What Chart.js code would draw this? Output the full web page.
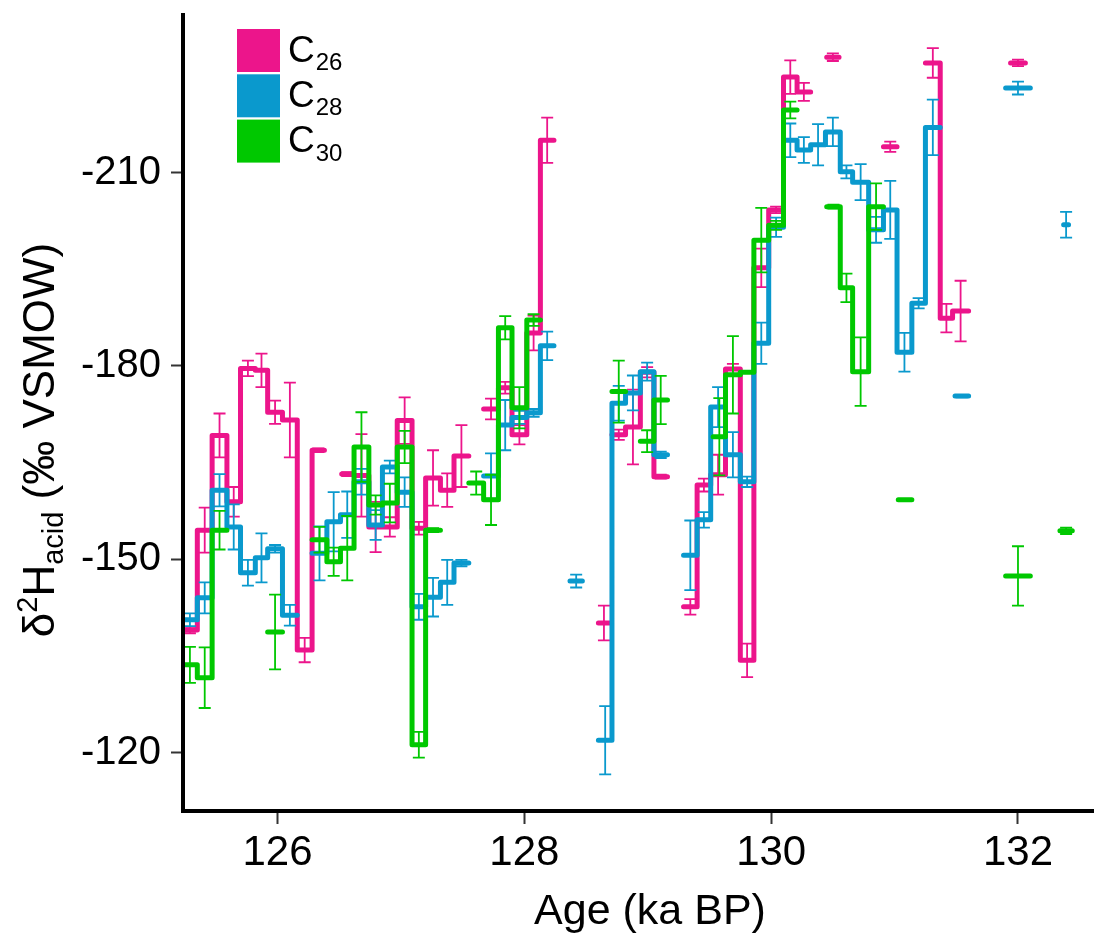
<!DOCTYPE html>
<html>
<head>
<meta charset="utf-8">
<script src="https://cdn.jsdelivr.net/npm/chart.js@4.4.1/dist/chart.umd.min.js"></script>
<style>
  html, body { margin: 0; padding: 0; background: #fff; }
  #wrap { width: 1094px; height: 935px; }
</style>
</head>
<body>
<div id="wrap"><canvas id="chart" width="1094" height="935"></canvas></div>
<script>
// Each sample covers an age interval (ka BP): [from, to], value and 1-sigma error.
// Samples whose "from" equals the previous "to" are joined by the step line.

// C26
const c26From = [125.23, 125.35, 125.47, 125.59, 125.70, 125.82, 125.92, 126.04, 126.16, 126.28,
                 126.52,
                 126.62, 126.74, 126.85, 126.97, 127.09, 127.20, 127.32, 127.43,
                 127.67, 127.79, 127.90, 128.02, 128.13,
                 128.60,
                 128.71, 128.82, 128.94, 129.05,
                 129.29, 129.40, 129.51, 129.63, 129.75, 129.86, 129.98, 130.10, 130.21,
                 130.45,
                 130.91,
                 131.25, 131.37, 131.47,
                 131.94];
const c26To   = [125.35, 125.47, 125.59, 125.70, 125.82, 125.92, 126.04, 126.16, 126.28, 126.38,
                 126.61,
                 126.74, 126.85, 126.97, 127.09, 127.20, 127.32, 127.43, 127.55,
                 127.79, 127.90, 128.02, 128.13, 128.24,
                 128.69,
                 128.82, 128.94, 129.05, 129.16,
                 129.40, 129.51, 129.63, 129.75, 129.86, 129.98, 130.10, 130.21, 130.32,
                 130.55,
                 131.02,
                 131.37, 131.47, 131.60,
                 132.06];
const c26Val  = [-139.0, -154.5, -169.2, -158.9, -179.6, -179.3, -172.8, -171.6, -135.9, -166.9,
                 -163.2,
                 -163.0, -155.0, -155.0, -171.5, -154.8, -162.6, -160.7, -166.0,
                 -173.3, -176.6, -169.3, -185.1, -215.0,
                 -140.1,
                 -169.3, -170.5, -179.0, -162.8,
                 -142.6, -161.5, -163.1, -179.5, -134.3, -195.2, -204.2, -224.8, -222.5,
                 -227.9,
                 -214.0,
                 -227.0, -187.4, -188.5,
                 -227.0];
const c26Err  = [0.5, 3.5, 3.4, 2.3, 1.2, 2.6, 1.8, 5.8, 1.9, 0.3,
                 0.3,
                 6.4, 3.9, 1.5, 3.6, 1.0, 4.3, 2.6, 4.8,
                 1.6, 0.9, 1.5, 2.7, 3.5,
                 2.7,
                 0.8, 5.8, 0.8, 0.3,
                 1.2, 1.0, 3.1, 0.8, 2.6, 3.0, 0.5, 2.6, 1.4,
                 0.6,
                 0.8,
                 2.3, 2.2, 4.7,
                 0.5];

// C28
const c28From = [125.23, 125.35, 125.47, 125.59, 125.70, 125.82, 125.92, 126.04,
                 126.28, 126.40, 126.51, 126.62, 126.74, 126.85, 126.97, 127.09, 127.20, 127.32, 127.43,
                 127.67, 127.79, 127.90, 128.02, 128.13,
                 128.37,
                 128.60, 128.71, 128.82, 128.94, 129.05,
                 129.29, 129.40, 129.51, 129.63, 129.75, 129.86, 129.98, 130.10, 130.21, 130.32,
                 130.44, 130.56, 130.66, 130.79, 130.91, 131.02, 131.14, 131.25,
                 131.49,
                 131.90,
                 132.37];
const c28To   = [125.35, 125.47, 125.59, 125.70, 125.82, 125.92, 126.04, 126.16,
                 126.40, 126.51, 126.62, 126.74, 126.85, 126.97, 127.09, 127.20, 127.32, 127.43, 127.55,
                 127.79, 127.90, 128.02, 128.13, 128.24,
                 128.47,
                 128.71, 128.82, 128.94, 129.05, 129.16,
                 129.40, 129.51, 129.63, 129.75, 129.86, 129.98, 130.10, 130.21, 130.32, 130.44,
                 130.56, 130.66, 130.79, 130.91, 131.02, 131.14, 131.25, 131.37,
                 131.60,
                 132.10,
                 132.41];
const c28Val  = [-140.6, -144.0, -160.7, -155.0, -147.9, -150.2, -151.6, -141.3,
                 -150.9, -155.8, -156.9, -162.0, -155.3, -164.3, -160.4, -142.6, -144.1, -146.4, -149.4,
                 -162.9, -170.8, -172.0, -172.7, -183.1,
                 -146.6,
                 -121.9, -174.2, -175.8, -179.1, -166.2,
                 -150.6, -156.1, -173.6, -166.2, -162.0, -183.5, -201.5, -215.0, -213.5, -214.3,
                 -216.3, -210.1, -208.5, -201.1, -204.2, -182.1, -189.7, -217.0,
                 -175.3,
                 -223.1,
                 -201.9];
const c28Err  = [1.0, 2.4, 2.5, 3.5, 2.0, 3.8, 0.6, 1.6,
                 4.2, 4.6, 3.6, 2.0, 2.3, 1.0, 2.3, 2.0, 3.0, 3.5, 0.5,
                 3.5, 3.9, 1.0, 0.6, 2.2,
                 1.0,
                 5.3, 2.7, 2.7, 1.4, 0.5,
                 5.4, 1.2, 3.1, 3.5, 0.8, 3.2, 1.5, 2.6, 2.0, 3.2,
                 2.2, 1.0, 2.8, 2.0, 4.5, 3.0, 0.8, 4.3,
                 0.2,
                 1.0,
                 2.0];

// C30
const c30From = [125.23, 125.35, 125.47,
                 125.92,
                 126.28, 126.40, 126.51, 126.62, 126.74, 126.85, 126.97, 127.09, 127.20,
                 127.55, 127.67, 127.79, 127.90, 128.02,
                 128.71,
                 128.94, 129.05,
                 129.53, 129.63, 129.75, 129.86, 129.98, 130.10,
                 130.45, 130.56, 130.66, 130.79,
                 131.03,
                 131.90,
                 132.34];
const c30To   = [125.35, 125.47, 125.59,
                 126.04,
                 126.40, 126.51, 126.62, 126.74, 126.85, 126.97, 127.09, 127.20, 127.32,
                 127.67, 127.79, 127.90, 128.02, 128.13,
                 128.82,
                 129.05, 129.16,
                 129.63, 129.75, 129.86, 129.98, 130.10, 130.21,
                 130.56, 130.66, 130.79, 130.91,
                 131.14,
                 132.10,
                 132.44];
const c30Val  = [-133.6, -131.6, -154.5,
                 -138.7,
                 -153.0, -149.6, -151.7, -167.4, -158.4, -158.7, -167.4, -121.2, -154.5,
                 -161.8, -159.2, -185.9, -173.5, -187.1,
                 -176.0,
                 -168.3, -174.7,
                 -169.0, -178.6, -179.0, -199.5, -201.8, -219.7,
                 -204.7, -192.1, -179.1, -204.7,
                 -159.2,
                 -147.4,
                 -154.4];
const c30Err  = [2.8, 4.7, 3.0,
                 5.8,
                 2.0, 2.2, 5.0, 5.4, 1.5, 3.0, 2.5, 2.0, 0.3,
                 1.8, 3.9, 1.8, 3.2, 0.9,
                 4.8,
                 1.7, 3.75,
                 6.0, 6.0, 0, 5.0, 0.7, 1.3,
                 0.3, 2.2, 5.3, 3.6,
                 0,
                 4.6,
                 0.5];

const xTicks = [126, 128, 130, 132];
const yTicks = [-210, -180, -150, -120];

const seriesNames = ['26', '28', '30'];
const seriesColors = ['#EC158B', '#0A99CD', '#00C800'];

// turn sample intervals into a step path, breaking where samples are not adjacent
function stepPoints(from, to, val) {
  const pts = [];
  for (let i = 0; i < val.length; i++) {
    if (i > 0 && from[i] !== to[i - 1]) {
      pts.push({ x: (to[i - 1] + from[i]) / 2, y: null });
    }
    pts.push({ x: from[i], y: val[i] });
    pts.push({ x: to[i], y: val[i] });
  }
  return pts;
}

function makeSet(idx, from, to, val, err) {
  return {
    label: 'C' + seriesNames[idx],
    data: stepPoints(from, to, val),
    borderColor: seriesColors[idx],
    backgroundColor: seriesColors[idx],
    borderWidth: 5,
    pointRadius: 0,
    spanGaps: false,
    order: 3 - idx,
    // kept for the error-bar plugin
    sFrom: from, sTo: to, sVal: val, sErr: err
  };
}

const FONT = '"Liberation Sans", Arial, sans-serif';

// error bars drawn right after their own series so the layering matches
const errorBars = {
  id: 'errorBars',
  afterDatasetDraw(chart, args) {
    const ds = chart.data.datasets[args.index];
    const { ctx, chartArea, scales: { x, y } } = chart;
    ctx.save();
    ctx.beginPath();
    ctx.rect(chartArea.left, chartArea.top, chartArea.right - chartArea.left, chartArea.bottom - chartArea.top);
    ctx.clip();
    ctx.strokeStyle = ds.borderColor;
    ctx.lineWidth = 1.8;
    ctx.lineCap = 'butt';
    for (let i = 0; i < ds.sVal.length; i++) {
      if (!ds.sErr[i]) continue;
      const cx = x.getPixelForValue((ds.sFrom[i] + ds.sTo[i]) / 2);
      const y1 = y.getPixelForValue(ds.sVal[i] - ds.sErr[i]);
      const y2 = y.getPixelForValue(ds.sVal[i] + ds.sErr[i]);
      ctx.beginPath();
      ctx.moveTo(cx, y1); ctx.lineTo(cx, y2);
      ctx.moveTo(cx - 6, y1); ctx.lineTo(cx + 6, y1);
      ctx.moveTo(cx - 6, y2); ctx.lineTo(cx + 6, y2);
      ctx.stroke();
    }
    ctx.restore();
  }
};

// legend boxes with subscripted labels, y title with super/subscripts, x title
const decorations = {
  id: 'decorations',
  afterDraw(chart) {
    const ctx = chart.ctx;
    ctx.save();
    ctx.fillStyle = '#000';
    ctx.textBaseline = 'alphabetic';
    ctx.textAlign = 'left';

    // legend
    for (let i = 0; i < seriesNames.length; i++) {
      const top = 29 + i * 45.3;
      ctx.fillStyle = seriesColors[i];
      ctx.fillRect(237, top, 43, 43);
      ctx.fillStyle = '#000';
      ctx.font = '37px ' + FONT;
      ctx.fillText('C', 288, top + 32.5);
      const cw = ctx.measureText('C').width;
      ctx.font = '24px ' + FONT;
      ctx.fillText(seriesNames[i], 288 + cw + 1, top + 41);
    }

    // x title
    ctx.font = '43px ' + FONT;
    ctx.textAlign = 'center';
    ctx.fillText('Age (ka BP)', 650, 924);

    // y title
    const parts = [
      ['δ', 44, 0], ['2', 29, -17], ['H', 44, 0], ['acid', 29, 9], [' (‰ VSMOW)', 44, 0]
    ];
    let total = 0;
    for (const p of parts) { ctx.font = p[1] + 'px ' + FONT; p.push(ctx.measureText(p[0]).width); total += p[3]; }
    ctx.translate(54, 440);
    ctx.rotate(-Math.PI / 2);
    ctx.textAlign = 'left';
    let cx = -total / 2;
    for (const p of parts) {
      ctx.font = p[1] + 'px ' + FONT;
      ctx.fillText(p[0], cx, p[2]);
      cx += p[3];
    }
    ctx.restore();
  }
};

new Chart(document.getElementById('chart'), {
  type: 'line',
  data: {
    datasets: [
      makeSet(0, c26From, c26To, c26Val, c26Err),
      makeSet(1, c28From, c28To, c28Val, c28Err),
      makeSet(2, c30From, c30To, c30Val, c30Err)
    ]
  },
  options: {
    responsive: false,
    animation: false,
    devicePixelRatio: 1,
    layout: { padding: { top: 15, right: 0, bottom: 0, left: 0 } },
    elements: {
      line: { tension: 0, borderCapStyle: 'round', borderJoinStyle: 'round' },
      point: { radius: 0, hoverRadius: 0 }
    },
    plugins: { legend: { display: false }, tooltip: { enabled: false } },
    scales: {
      x: {
        type: 'linear',
        min: 125.234,
        max: 132.616,
        afterBuildTicks: s => { s.ticks = xTicks.map(v => ({ value: v })); },
        afterFit: s => { s.height = 124; s.paddingLeft = 0; s.paddingRight = 0; },
        grid: { drawOnChartArea: false, drawTicks: true, tickLength: 13, tickWidth: 2, tickColor: '#333' },
        border: { display: true, width: 4, color: '#000', z: 1 },
        ticks: { font: { family: FONT, size: 42 }, color: '#000', padding: 4, maxRotation: 0 }
      },
      y: {
        type: 'linear',
        reverse: true,
        min: -234.44,
        max: -110.92,
        afterBuildTicks: s => { s.ticks = yTicks.map(v => ({ value: v })); },
        afterFit: s => { s.width = 183; s.paddingTop = 0; s.paddingBottom = 0; },
        grid: { drawOnChartArea: false, drawTicks: true, tickLength: 12, tickWidth: 2, tickColor: '#333' },
        border: { display: true, width: 4, color: '#000', z: 1 },
        ticks: { font: { family: FONT, size: 40 }, color: '#000', padding: 10 }
      }
    }
  },
  plugins: [errorBars, decorations]
});
</script>
</body>
</html>
